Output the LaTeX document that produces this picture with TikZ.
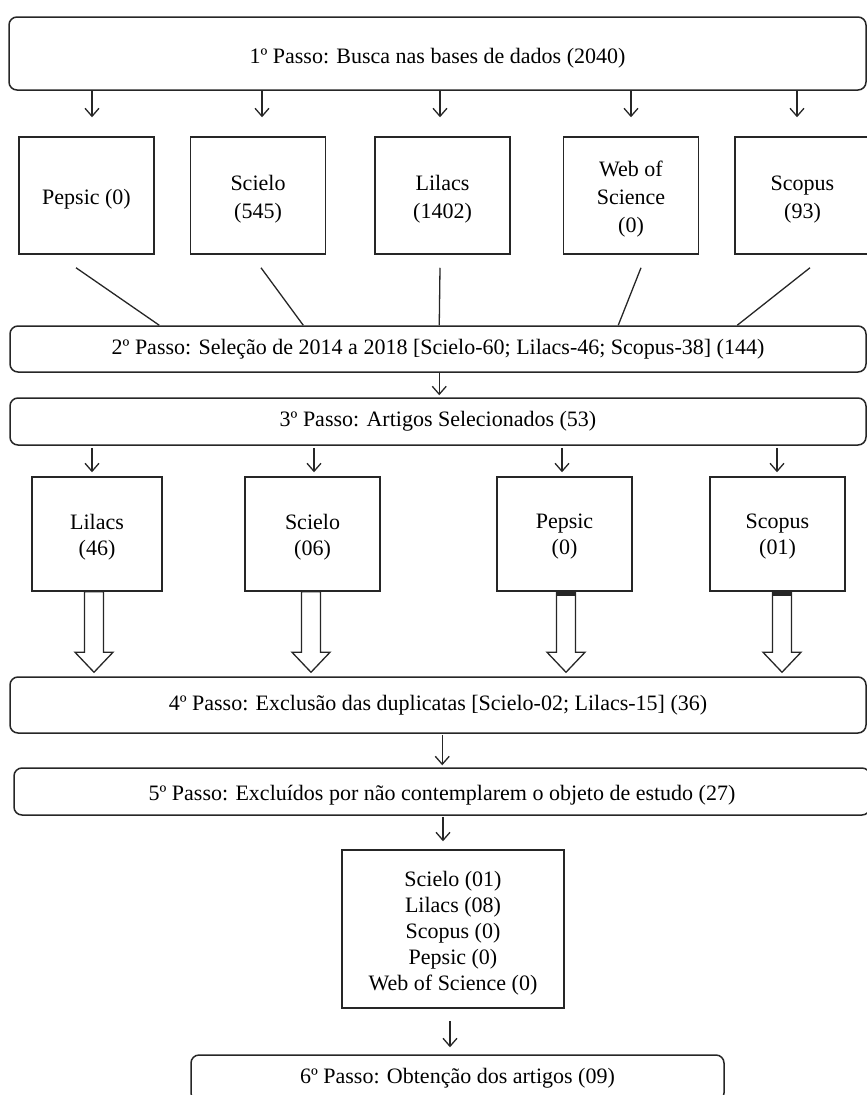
\documentclass[tikz,border=0pt]{standalone}
\usepackage{fontspec}
\setmainfont{Liberation Serif}
\usetikzlibrary{arrows.meta,calc}
\begin{document}
\begin{tikzpicture}[x=1pt,y=-1pt,
  every node/.style={font=\fontsize{22}{26}\selectfont},
  rbox/.style={draw=black!85,line width=1.5pt,rounded corners=8pt,inner sep=0pt},
  sbox/.style={draw=black!85,line width=1.5pt,inner sep=0pt,align=center},
  txt/.style={inner sep=0pt,align=center},
  wide/.style={font=\fontsize{22}{28}\selectfont},
  arr/.style={draw=black!85,line width=1.3pt,-{Straight Barb[length=8pt,width=14pt]}},
  conn/.style={draw=black!85,line width=1.3pt},
  blk/.style={draw=black!85,line width=1.3pt,fill=white,line join=miter}]
\useasboundingbox (0,0) rectangle (867,1095);

% Step 1
\node[rbox,minimum width=857pt,minimum height=73pt] (s1) at (437.5,53.5) {};
\node[txt] (s1t) at ($(s1.center)+(0,5)$) {1º Passo: Busca nas bases de dados (2040)};

% first row of databases
\node[sbox,minimum width=135pt,minimum height=117pt] (pep) at (86.5,195.5) {};
\node[sbox,minimum width=135pt,minimum height=117pt] (sci) at (258,195.5) {};
\node[sbox,minimum width=135pt,minimum height=117pt] (lil) at (442.5,195.5) {};
\node[sbox,minimum width=135pt,minimum height=117pt] (wos) at (631,195.5) {};
\node[sbox,minimum width=135pt,minimum height=117pt] (sco) at (802.5,195.5) {};
\node[txt,wide] (pept) at ($(pep.center)+(0,4)$) {Pepsic (0)};
\node[txt,wide] (scit) at ($(sci.center)+(0,4)$) {Scielo\\(545)};
\node[txt,wide] (lilt) at ($(lil.center)+(0,4)$) {Lilacs\\(1402)};
\node[txt,wide] (wost) at ($(wos.center)+(0,4)$) {Web of\\Science\\(0)};
\node[txt,wide] (scot) at ($(sco.center)+(0,4)$) {Scopus\\(93)};

\foreach \bx/\d in {pep/5.5,sci/4,lil/-2.5,wos/0,sco/-5.5}{
  \draw[arr] ($(s1.south -| \bx.north)+(\d,0)$) -- ($(\bx.north)+(\d,-19)$);
}

% Step 2 and 3
\node[rbox,minimum width=856pt,minimum height=46pt] (s2) at (438,349) {2º Passo: Seleção de 2014 a 2018 [Scielo-60; Lilacs-46; Scopus-38] (144)};
\node[rbox,minimum width=856pt,minimum height=47pt] (s3) at (438,421.5) {3º Passo: Artigos Selecionados (53)};

\draw[conn] ($(pep.south)+(-10.5,13)$) -- ($(s2.north west)+(150,0)$);
\draw[conn] ($(sci.south)+(3,13)$) -- ($(s2.north west)+(294,0)$);
\draw[conn] ($(lil.south)+(-2.5,13)$) -- ($(s2.north west)+(430,0)$);
\draw[conn] ($(wos.south)+(10,13)$) -- ($(s2.north west)+(609,0)$);
\draw[conn] ($(sco.south)+(7.5,13)$) -- ($(s2.north west)+(728,0)$);

\draw[arr,shorten >=2pt] ($(s2.south west)+(430,0)$) -- ($(s3.north west)+(430,0)$);

% second row of databases
\node[sbox,minimum width=130pt,minimum height=114pt] (lil2) at (97,534) {};
\node[sbox,minimum width=135pt,minimum height=114pt] (sci2) at (312.5,534) {};
\node[sbox,minimum width=135pt,minimum height=114pt] (pep2) at (564.5,534) {};
\node[sbox,minimum width=135pt,minimum height=114pt] (sco2) at (777.5,534) {};
\node[txt] (lil2t) at ($(lil2.center)+(0,3)$) {Lilacs\\(46)};
\node[txt] (sci2t) at ($(sci2.center)+(0,3)$) {Scielo\\(06)};
\node[txt] (pep2t) at ($(pep2.center)+(0,3)$) {Pepsic\\(0)};
\node[txt] (sco2t) at ($(sco2.center)+(0,3)$) {Scopus\\(01)};

\foreach \bx/\d in {lil2/-5,sci2/1.5,pep2/-2.5,sco2/-0.5}{
  \draw[arr] ($(s3.south -| \bx.north)+(\d,2)$) -- ($(\bx.north)+(\d,-4)$);
}

% Step 4
\node[rbox,minimum width=856pt,minimum height=56pt] (s4) at (438,705) {4º Passo: Exclusão das duplicatas [Scielo-02; Lilacs-15] (36)};

\foreach \bx/\d in {lil2/-3,sci2/-1.5,pep2/1.5,sco2/4.5}{
  \draw[blk] let \p1=($(\bx.south)+(\d,0)$), \p2=(s4.north) in
    (\x1-9.5pt,\y1) -- (\x1-9.5pt,\y2+24pt) -- (\x1-19pt,\y2+24pt) -- (\x1,\y2+4pt)
    -- (\x1+19pt,\y2+24pt) -- (\x1+9.5pt,\y2+24pt) -- (\x1+9.5pt,\y1) -- cycle;
}
\fill[black!85] ($(pep2.south)+(-8,0)$) rectangle ($(pep2.south)+(11,4)$);
\fill[black!85] ($(sco2.south)+(-5,0)$) rectangle ($(sco2.south)+(14,4)$);

% Step 5
\node[rbox,minimum width=856pt,minimum height=47pt] (s5) at (442,791.5) {};
\node[txt] (s5t) at ($(s5.center)+(0,4)$) {5º Passo: Excluídos por não contemplarem o objeto de estudo (27)};
\draw[arr,shorten <=1pt,shorten >=2pt] ($(s4.south west)+(433,0)$) -- ($(s4.south west |- s5.north)+(433,0)$);

% result list
\node[sbox,minimum width=222pt,minimum height=158pt] (res) at (453,929) {};
\node[txt] (rest) at ($(res.center)+(0,4)$) {Scielo (01)\\Lilacs (08)\\Scopus (0)\\Pepsic (0)\\Web of Science (0)};
\draw[arr,shorten <=1pt,shorten >=8pt] ($(s5.south -| res.north)+(-10,0)$) -- ($(res.north)+(-10,0)$);

% Step 6
\node[rbox,minimum width=533pt,minimum height=46pt] (s6) at (457.5,1078) {6º Passo: Obtenção dos artigos (09)};
\draw[arr,shorten <=12pt,shorten >=7pt] ($(res.south)+(-3,0)$) -- ($(res.south |- s6.north)+(-3,0)$);
\end{tikzpicture}
\end{document}
